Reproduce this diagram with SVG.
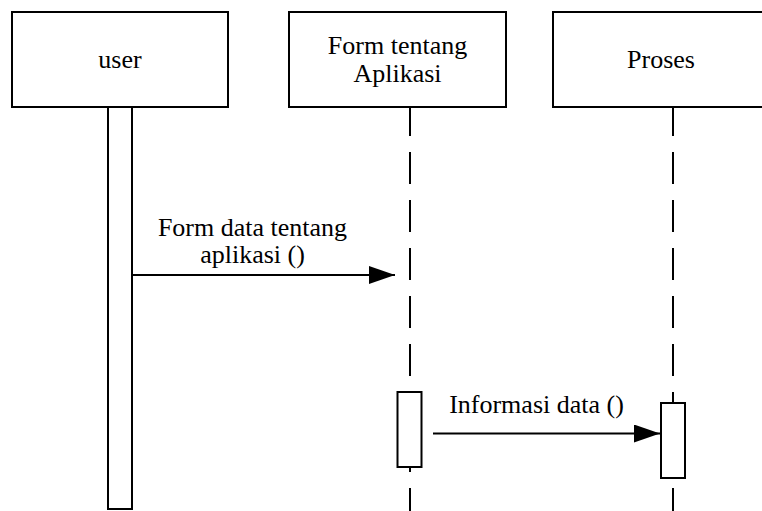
<svg xmlns="http://www.w3.org/2000/svg" width="762" height="511" viewBox="0 0 762 511">
<defs>
<style>
.box{fill:#fff;stroke:#000;stroke-width:2}
.act{fill:#fff;stroke:#000;stroke-width:2}
.life{stroke:#000;stroke-width:2;stroke-dasharray:32 16;stroke-dashoffset:3;fill:none}
.msg{stroke:#000;stroke-width:2;fill:none}
text{font-family:"Liberation Serif","Times New Roman",serif;font-size:26px;fill:#000;text-anchor:middle}
</style>
<marker id="arr" markerUnits="userSpaceOnUse" markerWidth="26" markerHeight="18" refX="26" refY="9" orient="auto">
<path d="M0,0 L26,9 L0,18 Z" fill="#000"/>
</marker>
</defs>
<g id="lifelines">
<line class="life" x1="410" y1="107" x2="410" y2="511"/>
<line class="life" x1="673" y1="107" x2="673" y2="511"/>
</g>
<g id="user">
<rect class="box" x="12" y="12" width="216" height="95"/>
<text x="120" y="68">user</text>
<rect class="act" x="108" y="107" width="24" height="402"/>
</g>
<g id="form">
<rect class="box" x="289" y="12" width="217" height="95"/>
<text x="397.5" y="53.5">Form tentang</text>
<text x="397.5" y="82">Aplikasi</text>
<rect class="act" x="397.5" y="392" width="24" height="75"/>
</g>
<g id="proses">
<rect class="box" x="553" y="12" width="216" height="95"/>
<text x="661" y="68">Proses</text>
<rect class="act" x="661" y="403" width="24" height="75"/>
</g>
<g id="connectors">
<line class="msg" x1="132" y1="275" x2="395" y2="275" marker-end="url(#arr)"/>
<text x="252.5" y="236">Form data tentang</text>
<text x="252.5" y="263">aplikasi ()</text>
<line class="msg" x1="433" y1="433.5" x2="660" y2="433.5" marker-end="url(#arr)"/>
<text x="536.5" y="413">Informasi data ()</text>
</g>
</svg>
